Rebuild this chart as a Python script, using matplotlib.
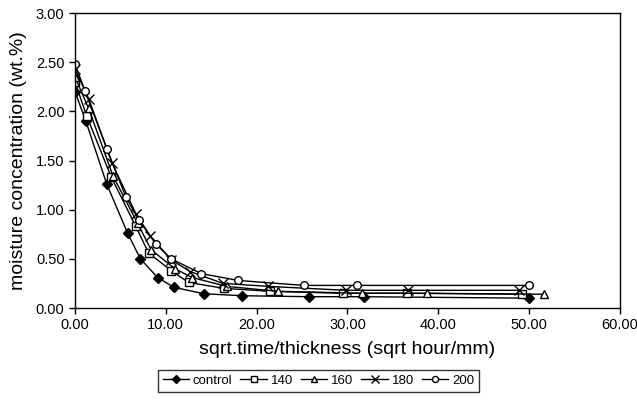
import matplotlib
matplotlib.use("Agg")
import matplotlib.pyplot as plt

plt.rcParams['font.family'] = ['Liberation Sans', 'DejaVu Sans']

# sqrt(time)/thickness and moisture concentration (wt.%) per series
x_control = [0.0, 1.2, 3.5, 5.8, 7.2, 9.1, 10.9, 14.2, 18.4, 25.8, 31.8, 50.0]
y_control = [2.20, 1.90, 1.26, 0.76, 0.50, 0.31, 0.21, 0.145, 0.125, 0.115, 0.115, 0.10]

x_140 = [0.0, 1.3, 4.0, 6.7, 8.1, 10.6, 12.5, 16.4, 21.5, 29.5, 36.5, 49.2]
y_140 = [2.30, 1.95, 1.33, 0.83, 0.56, 0.38, 0.26, 0.20, 0.17, 0.15, 0.15, 0.14]

x_160 = [0.0, 1.5, 4.2, 6.9, 8.4, 11.0, 12.9, 16.7, 22.3, 31.6, 38.7, 51.6]
y_160 = [2.35, 2.03, 1.34, 0.86, 0.59, 0.40, 0.31, 0.22, 0.17, 0.15, 0.15, 0.14]

x_180 = [0.0, 1.5, 4.1, 6.7, 8.3, 10.6, 12.7, 16.3, 21.3, 29.8, 36.7, 48.9]
y_180 = [2.43, 2.13, 1.47, 0.96, 0.73, 0.49, 0.37, 0.25, 0.22, 0.18, 0.18, 0.18]

x_200 = [0.0, 1.1, 3.5, 5.6, 7.0, 8.9, 10.6, 13.9, 18.0, 25.2, 31.0, 50.0]
y_200 = [2.48, 2.21, 1.62, 1.13, 0.90, 0.65, 0.50, 0.35, 0.28, 0.23, 0.23, 0.23]

series = [
    ("control", x_control, y_control, "D", "black", 5),
    ("140", x_140, y_140, "s", "white", 5.5),
    ("160", x_160, y_160, "^", "white", 5.5),
    ("180", x_180, y_180, "x", "black", 7),
    ("200", x_200, y_200, "o", "white", 5.5),
]

fig = plt.figure(figsize=(6.37, 4.03), dpi=100)
ax = fig.add_axes([0.1177, 0.2357, 0.8556, 0.732])

for name, xs, ys, mk, fc, ms in series:
    ax.plot(xs, ys, color="black", linewidth=1.0, marker=mk, markersize=ms,
            markerfacecolor=fc, markeredgecolor="black", markeredgewidth=1.0,
            label=name)

ax.set_xlim(0, 60)
ax.set_ylim(0, 3)
ax.set_xticks(range(0, 61, 10))
ax.set_xticklabels([f"{v:.2f}" for v in range(0, 61, 10)])
ax.set_yticks([0, 0.5, 1.0, 1.5, 2.0, 2.5, 3.0])
ax.set_yticklabels([f"{v:.2f}" for v in [0, 0.5, 1.0, 1.5, 2.0, 2.5, 3.0]])
ax.tick_params(labelsize=10.5, direction="out", length=4, width=1)
for s in ax.spines.values():
    s.set_linewidth(1.0)

ax.set_xlabel("sqrt.time/thickness (sqrt hour/mm)", fontsize=14, labelpad=6)
ax.set_ylabel("moisture concentration (wt.%)", fontsize=14, labelpad=6)

handles, labels = ax.get_legend_handles_labels()
leg = fig.legend(handles, labels, loc="center", bbox_to_anchor=(0.5, 0.0546),
                 ncol=5, fontsize=9.5, frameon=True, fancybox=False,
                 edgecolor="black", handlelength=2.0, handletextpad=0.3,
                 columnspacing=0.6, borderpad=0.35, markerscale=0.8)
leg.get_frame().set_linewidth(1.0)

fig.savefig("out.png", dpi=100)
